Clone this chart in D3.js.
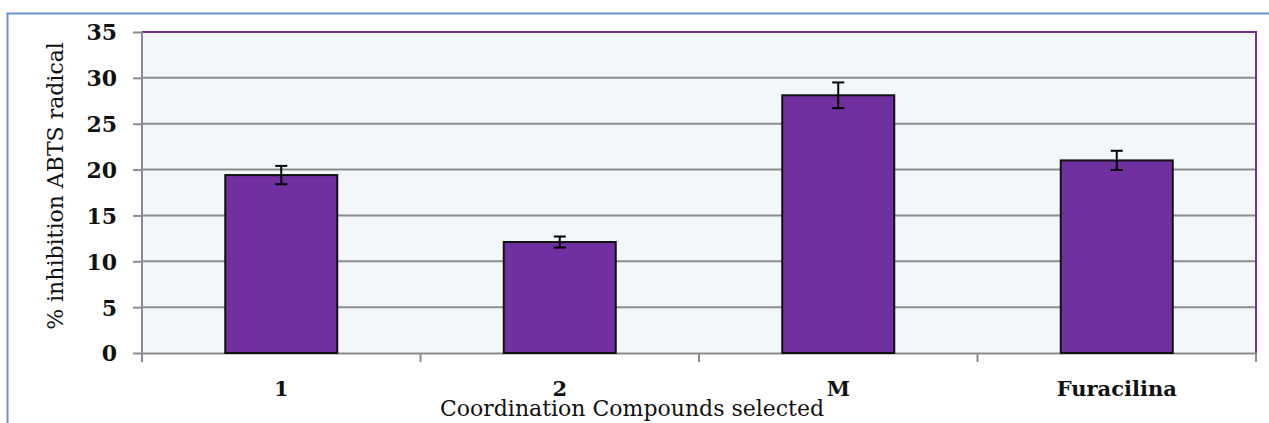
<!DOCTYPE html>
<html><head><meta charset="utf-8">
<script src="https://cdn.jsdelivr.net/npm/d3@7"></script>
<style>body{margin:0;background:#fff}svg{display:block}</style>
</head><body><svg id="c" width="1269" height="423"></svg>
<script>
const categories = ["1", "2", "M", "Furacilina"];
const values = [19.4, 12.1, 28.1, 21.0];
const errors = [1.0, 0.6, 1.4, 1.05];
const yTicks = [0, 5, 10, 15, 20, 25, 30, 35];
const yTitle = "% inhibition  ABTS radical";
const xTitle = "Coordination Compounds selected";

const svg = d3.select("#c");
const L = 142, R = 1256, T = 32, B = 353;
const font = "'DejaVu Serif','Liberation Serif',serif";

// outer frame
svg.append("path").attr("d", "M7.5,430 L7.5,13.5 L1280,13.5")
  .attr("fill", "none").attr("stroke", "#6893CC").attr("stroke-width", 2);

const x = d3.scaleBand().domain(categories).range([L, R]).paddingInner(0).paddingOuter(0);
const y = d3.scaleLinear().domain([0, 35]).range([B, T]);

svg.append("rect").attr("x", L).attr("y", T).attr("width", R - L).attr("height", B - T).attr("fill", "#F2F7FA");

// gridlines
svg.append("g").selectAll("line").data(yTicks.filter(d => d > 0 && d < 35)).join("line")
  .attr("x1", L).attr("x2", R).attr("y1", d => y(d)).attr("y2", d => y(d))
  .attr("stroke", "#8C8C8C").attr("stroke-width", 2);

// plot border top/right purple
svg.append("path").attr("d", `M${L},${T} L${R},${T} L${R},${B}`).attr("fill", "none")
  .attr("stroke", "#7030A0").attr("stroke-width", 2);

// y axis
const yAxis = svg.append("g").attr("transform", `translate(${L},0)`)
  .call(d3.axisLeft(y).tickValues(yTicks).tickSize(9).tickPadding(16));
yAxis.select(".domain").attr("stroke", "#8E869E").attr("stroke-width", 2).attr("d", `M0,${T}V${B + 9}`);
yAxis.selectAll(".tick line").attr("stroke", "#8C8C8C").attr("stroke-width", 2);
yAxis.selectAll(".tick text").attr("font-family", font).attr("font-weight", "bold")
  .attr("font-size", 22).attr("fill", "#111").attr("dy", "0.36em");

// x axis
const xAxis = svg.append("g").attr("transform", `translate(0,${B})`)
  .call(d3.axisBottom(x).tickSize(0));
xAxis.select(".domain").attr("stroke", "#8C8C8C").attr("stroke-width", 2);
xAxis.selectAll(".tick text").attr("font-family", font).attr("font-weight", "bold")
  .attr("font-size", 21).attr("fill", "#111").attr("y", 43).attr("dy", 0);
// category boundary ticks
svg.append("g").selectAll("line").data(categories.slice(1)).join("line")
  .attr("x1", d => x(d)).attr("x2", d => x(d)).attr("y1", B).attr("y2", B + 9)
  .attr("stroke", "#8C8C8C").attr("stroke-width", 2);
svg.append("line").attr("x1", R).attr("x2", R).attr("y1", B).attr("y2", B + 9)
  .attr("stroke", "#8C8C8C").attr("stroke-width", 2);

// bars
const bw = 112;
svg.append("g").selectAll("rect").data(categories).join("rect")
  .attr("x", (d) => x(d) + x.bandwidth() / 2 - bw / 2)
  .attr("y", (d, i) => y(values[i]))
  .attr("width", bw)
  .attr("height", (d, i) => y(0) - y(values[i]))
  .attr("fill", "#7030A0").attr("stroke", "#111").attr("stroke-width", 2);

// error bars
const eg = svg.append("g").attr("stroke", "#000").attr("stroke-width", 2);
categories.forEach((c, i) => {
  const cx = x(c) + x.bandwidth() / 2;
  const y1 = y(values[i] + errors[i]), y2 = y(values[i] - errors[i]);
  eg.append("line").attr("x1", cx).attr("x2", cx).attr("y1", y1).attr("y2", y2);
  eg.append("line").attr("x1", cx - 6).attr("x2", cx + 6).attr("y1", y1).attr("y2", y1);
  eg.append("line").attr("x1", cx - 6).attr("x2", cx + 6).attr("y1", y2).attr("y2", y2);
});

// titles
svg.append("text").attr("transform", "translate(63,186) rotate(-90)")
  .attr("text-anchor", "middle").attr("font-family", font).attr("font-size", 22)
  .attr("fill", "#111").text(yTitle);
svg.append("text").attr("x", 632).attr("y", 416)
  .attr("text-anchor", "middle").attr("font-family", font).attr("font-size", 22)
  .attr("fill", "#111").text(xTitle);
</script></body></html>
